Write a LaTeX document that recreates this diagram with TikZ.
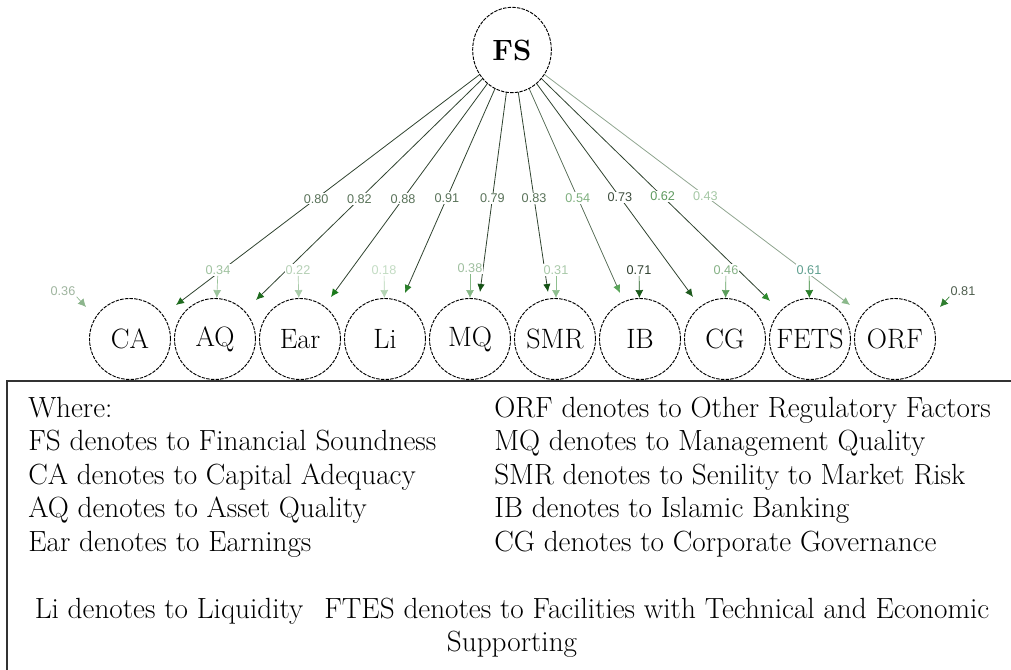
\documentclass[tikz,border=0pt]{standalone}
\usepackage{fontspec}
\newfontfamily\lblfont{Liberation Sans}
\usetikzlibrary{arrows.meta,shapes.geometric}
\pgfdeclarelayer{background}
\pgfsetlayers{background,main}

% path colours
\definecolor{pathline}{HTML}{2F432F}
\definecolor{pathlineB}{HTML}{5E735E}
\definecolor{pathlineC}{HTML}{8FA58F}
% loading tips
\definecolor{hCA}{HTML}{1E6B1E}
\definecolor{hAQ}{HTML}{1E6B1E}
\definecolor{hEar}{HTML}{1A7A1A}
\definecolor{hLi}{HTML}{2A7F2A}
\definecolor{hMQ}{HTML}{155215}
\definecolor{hSMR}{HTML}{155215}
\definecolor{hIB}{HTML}{5AA55A}
\definecolor{hCG}{HTML}{1D5A1D}
\definecolor{hFETS}{HTML}{2E8B2E}
\definecolor{hORF}{HTML}{8AB88A}
% loading texts
\definecolor{tGrey}{HTML}{5A735A}
\definecolor{tLight}{HTML}{7FB07F}
\definecolor{tDark}{HTML}{3D4D3D}
\definecolor{tMid}{HTML}{5F9A5F}
\definecolor{tPale}{HTML}{A5C8A5}
% residual texts and tips
\definecolor{r34}{HTML}{9FC29F}
\definecolor{r22}{HTML}{B5D0B5}
\definecolor{r18}{HTML}{C3DCC3}
\definecolor{r38}{HTML}{9FBF9F}
\definecolor{r31}{HTML}{A9C9A9}
\definecolor{r71}{HTML}{2F3F2F}
\definecolor{r46}{HTML}{86B286}
\definecolor{r61}{HTML}{5F9F8F}
\definecolor{r36}{HTML}{9FB59F}
\definecolor{r81}{HTML}{4F5F4F}
\definecolor{a34}{HTML}{9CC49C}
\definecolor{a22}{HTML}{A9CBA9}
\definecolor{a18}{HTML}{B4D4B4}
\definecolor{a38}{HTML}{86B886}
\definecolor{a31}{HTML}{8FBF8F}
\definecolor{a71}{HTML}{1A5A1A}
\definecolor{a46}{HTML}{5C9E5C}
\definecolor{a61}{HTML}{2A7F2A}
\definecolor{a36}{HTML}{8DB58D}
\definecolor{a81}{HTML}{2E7D2E}
\definecolor{boxline}{HTML}{333333}

\begin{document}
\begin{tikzpicture}[x=0.75pt,y=-0.75pt,
  latent/.style={circle, draw=black, dash pattern=on 2.6pt off 0.9pt,
    line width=0.7pt, fill=white, minimum size=60.75pt, inner sep=0pt,
    font=\fontsize{21}{21}\selectfont},
  factor/.style={ellipse, draw=black, dash pattern=on 2.6pt off 0.9pt,
    line width=0.7pt, fill=white, minimum width=59pt, minimum height=64pt,
    inner sep=0pt, font=\fontsize{22}{22}\selectfont\bfseries},
  load/.style={draw=#1, line width=0.6pt},
  coef/.style={font=\lblfont\fontsize{9.5}{10}\selectfont, fill=white,
    inner sep=0.8pt},
  resid/.style={draw=#1, line width=0.5pt,
    -{Latex[length=6pt,width=6pt,color=#1]}},
  note/.style={font=\fontsize{21.9}{26}\selectfont, inner sep=0pt,
    anchor=base west},
  notec/.style={font=\fontsize{21.9}{26}\selectfont, inner sep=0pt,
    anchor=base}
]
\useasboundingbox (0,0) rectangle (1011,670);

% factor and indicators
\node[factor] (FS) at (512,50) {FS};
\node[latent] (CA)   at (130,339) {CA};
\node[latent] (AQ)   at (215,339) {AQ};
\node[latent] (Ear)  at (300,339) {Ear};
\node[latent] (Li)   at (385,339) {Li};
\node[latent] (MQ)   at (470,339) {MQ};
\node[latent] (SMR)  at (555,339) {SMR};
\node[latent] (IB)   at (640,339) {IB};
\node[latent] (CG)   at (725,339) {CG};
\node[latent] (FETS) at (810,339) {FETS};
\node[latent] (ORF)  at (895,339) {ORF};

% arrow ends of the loadings
\coordinate (tCA)   at (176,305);
\coordinate (tAQ)   at (256,300);
\coordinate (tEar)  at (331,297);
\coordinate (tLi)   at (405,293);
\coordinate (tMQ)   at (480,292);
\coordinate (tSMR)  at (548,292);
\coordinate (tIB)   at (620,293);
\coordinate (tCG)   at (693,297);
\coordinate (tFETS) at (770,301);
\coordinate (tORF)  at (850,305);

\begin{pgfonlayer}{background}
\draw[load=pathline, -{Latex[length=6pt,width=5.5pt,color=hCA]}] (FS.center) -- (tCA)
  node[coef, pos=0.583, text=tGrey] {0.80};
\draw[load=pathline, -{Latex[length=6pt,width=5.5pt,color=hAQ]}] (FS.center) -- (tAQ)
  node[coef, pos=0.596, text=tGrey] {0.82};
\draw[load=pathline, -{Latex[length=6pt,width=5.5pt,color=hEar]}] (FS.center) -- (tEar)
  node[coef, pos=0.602, text=tGrey] {0.88};
\draw[load=pathline, -{Latex[length=6pt,width=5.5pt,color=hLi]}] (FS.center) -- (tLi)
  node[coef, pos=0.609, text=tGrey] {0.91};
\draw[load=pathline, -{Latex[length=6pt,width=5.5pt,color=hMQ]}] (FS.center) -- (tMQ)
  node[coef, pos=0.612, text=tGrey] {0.79};
\draw[load=pathline, -{Latex[length=6pt,width=5.5pt,color=hSMR]}] (FS.center) -- (tSMR)
  node[coef, pos=0.612, text=tGrey] {0.83};
\draw[load=pathlineB, -{Latex[length=6pt,width=5.5pt,color=hIB]}] (FS.center) -- (tIB)
  node[coef, pos=0.609, text=tLight] {0.54};
\draw[load=pathline, -{Latex[length=6pt,width=5.5pt,color=hCG]}] (FS.center) -- (tCG)
  node[coef, pos=0.596, text=tDark] {0.73};
\draw[load=pathline, -{Latex[length=6pt,width=5.5pt,color=hFETS]}] (FS.center) -- (tFETS)
  node[coef, pos=0.584, text=tMid] {0.62};
\draw[load=pathlineC, -{Latex[length=6pt,width=5.5pt,color=hORF]}] (FS.center) -- (tORF)
  node[coef, pos=0.572, text=tPale] {0.43};
\end{pgfonlayer}

% residual terms
\node[coef, text=r34] (v34) at (218,270) {0.34};
\node[coef, text=r22] (v22) at (298,270) {0.22};
\node[coef, text=r18] (v18) at (384,270) {0.18};
\node[coef, text=r38] (v38) at (470,268) {0.38};
\node[coef, text=r31] (v31) at (556,270) {0.31};
\node[coef, text=r71] (v71) at (639,270) {0.71};
\node[coef, text=r46] (v46) at (726,270) {0.46};
\node[coef, text=r61] (v61) at (809,270) {0.61};
\node[coef, text=r36] (v36) at (63,291) {0.36};
\node[coef, text=r81] (v81) at (963,291) {0.81};
\coordinate (eCA)  at (86,307);
\coordinate (eORF) at (940,307);

\draw[resid=a34] (v34) -- (AQ);
\draw[resid=a22] (v22) -- (Ear);
\draw[resid=a18] (v18) -- (Li);
\draw[resid=a38] (v38) -- (MQ);
\draw[resid=a31] (v31.south) -- (SMR.north -| v31.south);
\draw[resid=a71] (v71) -- (IB);
\draw[resid=a46] (v46) -- (CG);
\draw[resid=a61] (v61) -- (FETS);
\draw[resid=a36] (v36.south east) -- (eCA);
\draw[resid=a81] (v81.south west) -- (eORF);

% legend panel
\fill[white] (7,381) rectangle (1011,670);
\draw[boxline, line width=1.6pt] (7,670) -- (7,381) -- (1011,381);

\node[note] (w0) at (28,417)   {Where:};
\node[note] (w1) at (28,450.5) {FS denotes to Financial Soundness};
\node[note] (w2) at (28,484)   {CA denotes to Capital Adequacy};
\node[note] (w3) at (28,517.5) {AQ denotes to Asset Quality};
\node[note] (w4) at (28,551)   {Ear denotes to Earnings};
\node[note] (w5) at (494,417)   {ORF denotes to Other Regulatory Factors};
\node[note] (w6) at (494,450.5) {MQ denotes to Management Quality};
\node[note] (w7) at (494,484)   {SMR denotes to Senility to Market Risk};
\node[note] (w8) at (494,517.5) {IB denotes to Islamic Banking};
\node[note] (w9) at (494,551)   {CG denotes to Corporate Governance};
\node[notec] (w10) at (512,618)
  {Li denotes to Liquidity\hspace{0.72em}FTES denotes to Facilities with Technical and Economic};
\node[notec] (w11) at (512,651.5) {Supporting};
\end{tikzpicture}
\end{document}
